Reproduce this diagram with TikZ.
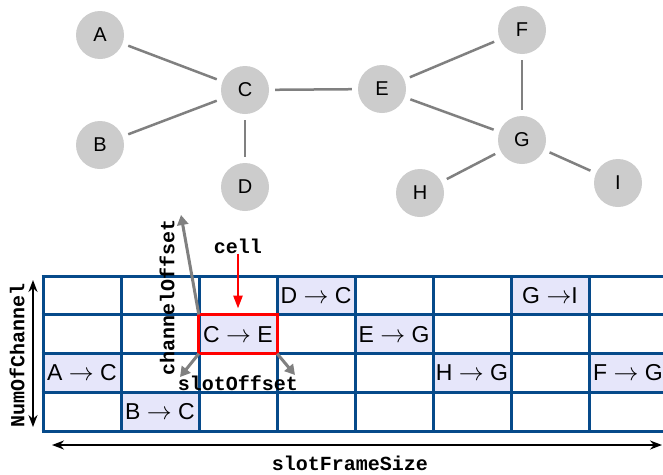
\documentclass[tikz,border=0pt]{standalone}
\usepackage{fontspec}
\setmainfont{Liberation Sans}
\setmonofont{Liberation Mono}
\usetikzlibrary{arrows.meta}
\definecolor{gridblue}{HTML}{064A8A}
\definecolor{lav}{HTML}{E6E6FA}
\definecolor{edgegray}{HTML}{808080}
\definecolor{nodegray}{HTML}{CCCCCC}
\begin{document}
\begin{tikzpicture}[x=1pt,y=-1pt,
  gnode/.style={circle,fill=nodegray,minimum size=48,inner sep=0,font=\fontsize{20}{24}\selectfont},
  gedge/.style={draw=edgegray,line width=2.5,shorten <=6,shorten >=6},
  cellbox/.style={rectangle,minimum width=78,minimum height=38.75,inner sep=0,font=\fontsize{23}{27}\selectfont},
  filled/.style={cellbox,fill=lav},
  gridline/.style={draw=gridblue,line width=3},
  monolabel/.style={font=\fontsize{20}{24}\selectfont\ttfamily\bfseries,inner sep=0},
  redarrow/.style={draw=red,line width=2.5,-{Triangle[length=13,width=9]}},
  grayarrow/.style={draw=edgegray,line width=3,-{Triangle[length=10,width=11]}},
  dblarrow/.style={draw=black,line width=1.8,{Stealth[length=12,width=9]}-{Stealth[length=12,width=9]}}]
\useasboundingbox (0,0) rectangle (663,474);
\clip (0,0) rectangle (663,474);
\fill[white] (0,0) rectangle (663,474);
% graph
\node[gnode] (A) at (100,35) {A};
\node[gnode] (B) at (100,145) {B};
\node[gnode] (C) at (245,90) {C};
\node[gnode] (D) at (245,187) {D};
\node[gnode] (E) at (382,89) {E};
\node[gnode] (F) at (522,30) {F};
\node[gnode] (G) at (522,140) {G};
\node[gnode] (H) at (420,193) {H};
\node[gnode] (I) at (618,183) {I};
\draw[gedge] (A) -- (C);
\draw[gedge] (B) -- (C);
\draw[gedge] (C) -- (D);
\draw[gedge] (C) -- (E);
\draw[gedge] (E) -- (F);
\draw[gedge] (E) -- (G);
\draw[gedge] (F) -- (G);
\draw[gedge] (G) -- (H);
\draw[gedge] (G) -- (I);
% cells
\node[filled] (dc) at (316,295.375) {D $\rightarrow$ C};
\node[filled] (gi) at (550,295.375) {G $\rightarrow$I};
\node[filled] (ce) at (238,334.125) {C $\rightarrow$ E};
\node[filled] (eg) at (394,334.125) {E $\rightarrow$ G};
\node[filled] (ac) at (82,372.875) {A $\rightarrow$ C};
\node[filled] (hg) at (472,372.875) {H $\rightarrow$ G};
\node[filled] (fg) at (628,372.875) {F $\rightarrow$ G};
\node[filled] (bc) at (160,411.625) {B $\rightarrow$ C};
% grid lines
\foreach \yy in {276,314.75,353.5,392.25,431}
  \draw[gridline] (41.5,\yy) -- (668,\yy);
\foreach \xx in {43,121,199,277,355,433,511,589,667}
  \draw[gridline] (\xx,276) -- (\xx,431);
\draw[draw=red,line width=3] (ce.north west) rectangle (ce.south east);
% labels
\node[monolabel] (cell) at (238,246) {cell};
\node[monolabel] (so) at (238,383) {slotOffset};
\node[monolabel,rotate=90] (co) at (167,297) {channelOffset};
\node[monolabel,rotate=90] (nc) at (17,355) {NumOfChannel};
\node[monolabel] (sf) at (350,463) {slotFrameSize};
% arrows
\coordinate (chtip) at (181,215);
\coordinate (soL) at (180,377);
\coordinate (soR) at (295,375);
\draw[redarrow,shorten >=6] (cell.south) -- (ce.north);
\draw[grayarrow] (ce.north west) -- (chtip);
\draw[grayarrow] (ce.south west) -- (soL);
\draw[grayarrow] (ce.south east) -- (soR);
\coordinate (nc1) at (33,280);
\coordinate (nc2) at (33,427);
\coordinate (sf1) at (52,445);
\coordinate (sf2) at (662,445);
\draw[dblarrow] (nc1) -- (nc2);
\draw[dblarrow] (sf1) -- (sf2);
\end{tikzpicture}
\end{document}
